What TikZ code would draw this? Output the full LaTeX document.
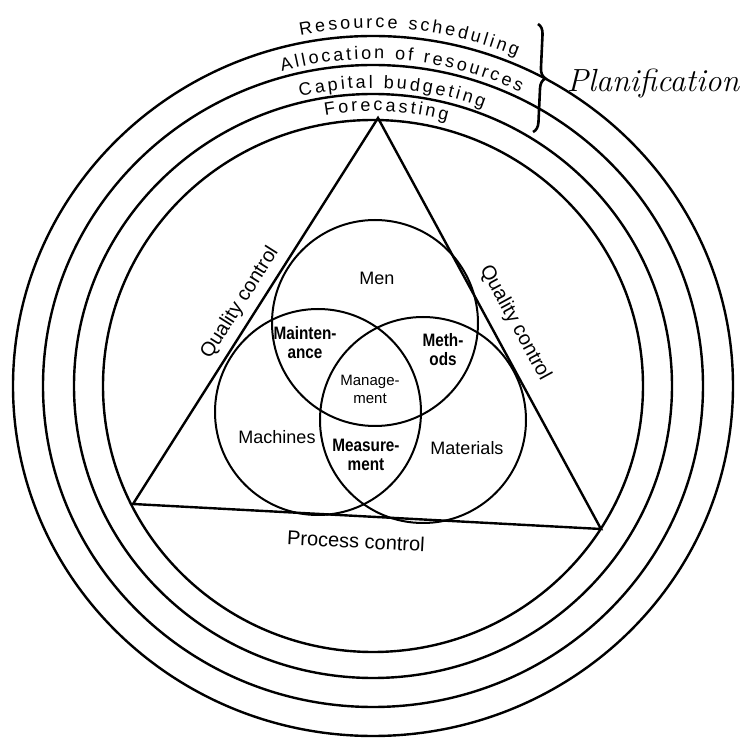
\documentclass[tikz,border=0pt]{standalone}
\usepackage{fontspec}
\newfontfamily\labf{Liberation Sans}
\newfontfamily\condf[FakeStretch=0.85]{Liberation Sans}
\usetikzlibrary{decorations.text,decorations.pathreplacing}
\newcommand\arcf{\labf\fontsize{9}{10}\selectfont}
\tikzset{
  ring/.style={line width=1.2pt},
  venn/.style={line width=1pt},
  tri/.style={line width=1.2pt, line join=miter},
  lbl/.style={font=\labf\fontsize{9}{10}\selectfont, inner sep=0pt, align=center},
  blbl/.style={font=\condf\bfseries\fontsize{9}{9.5}\selectfont, inner sep=0pt, align=center},
  mlbl/.style={font=\labf\fontsize{7.5}{9}\selectfont, inner sep=0pt, align=center},
  qlbl/.style={font=\labf\fontsize{10}{11}\selectfont, inner sep=0pt},
  arctext/.style={decorate, decoration={text along path, text align=fit to path, text={#1}}}
}
\begin{document}
\begin{tikzpicture}[x=0.5pt,y=0.5pt]
\useasboundingbox (0,0) rectangle (746,740);
\coordinate (C) at (373,354);
% rings
\draw[ring] (C) ellipse[x radius=360, y radius=350];
\draw[ring] (C) ellipse[x radius=330, y radius=321];
\draw[ring] (C) ellipse[x radius=299, y radius=292];
\draw[ring] (C) ellipse[x radius=270, y radius=266];
% ring texts
\path[arctext={|\arcf|Resource scheduling}] (C) ++(101.4:368 and 358) arc[start angle=101.4, end angle=67, x radius=368, y radius=358];
\path[arctext={|\arcf|Allocation of resources}] (C) ++(105.7:337 and 327) arc[start angle=105.7, end angle=64.1, x radius=337, y radius=327];
\path[arctext={|\arcf|Capital budgeting}] (C) ++(103.8:305 and 298) arc[start angle=103.8, end angle=68.8, x radius=305, y radius=298];
\path[arctext={|\arcf|Forecasting}] (C) ++(99.9:279 and 275) arc[start angle=99.9, end angle=74.6, x radius=279, y radius=275];
% brace and label
\coordinate (bt) at (538,716);
\coordinate (bb) at (533,608);
\draw[line width=1.3pt, decorate, decoration={brace, amplitude=5pt}] (bt) -- (bb);
\node[font=\fontsize{16}{16}\selectfont\itshape, anchor=base] (plan) at (653,648) {Planification};
% triangle
\coordinate (A) at (378,622);
\coordinate (L) at (133,236);
\coordinate (R) at (601,211);
\draw[tri] (A) -- (L) -- (R) -- cycle;
% venn circles
\coordinate (cMen) at (375,417);
\coordinate (cMac) at (318,328);
\coordinate (cMat) at (423,320);
\draw[venn] (cMen) circle[radius=103];
\draw[venn] (cMac) circle[radius=103];
\draw[venn] (cMat) circle[radius=103];
% labels
\node[lbl] (men) at (377,462) {Men};
\node[blbl] (maint) at (305,397) {Mainten-\\ance};
\node[blbl] (meth) at (443,390) {Meth-\\ods};
\node[mlbl] (mgmt) at (370,351) {Manage-\\ment};
\node[lbl] (mach) at (277,303) {Machines};
\node[blbl] (meas) at (366,285) {Measure-\\ment};
\node[lbl] (mat) at (467,292) {Materials};
\node[qlbl, rotate=57.6] (qcl) at (240,437) {Quality control};
\node[qlbl, rotate=-61.5] (qcr) at (515,417) {Quality control};
\node[qlbl, rotate=-3] (pc) at (356,199) {Process control};
\end{tikzpicture}
\end{document}
